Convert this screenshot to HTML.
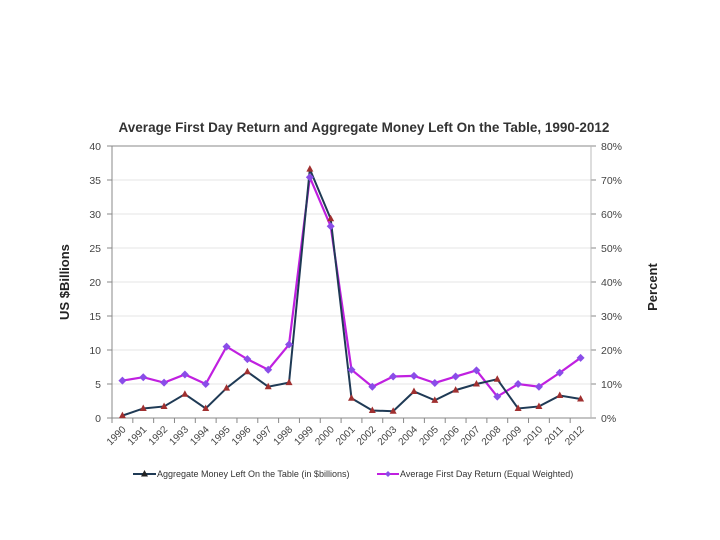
<!DOCTYPE html>
<html><head><meta charset="utf-8"><style>
body{margin:0;background:#fff;}
svg{display:block;font-family:"Liberation Sans",sans-serif;}
</style></head><body>
<svg id="chart" width="720" height="540" viewBox="0 0 720 540"></svg>
<script>
const years=["1990","1991","1992","1993","1994","1995","1996","1997","1998","1999","2000","2001","2002","2003","2004","2005","2006","2007","2008","2009","2010","2011","2012"];
const moneyLeft=[0.35,1.4,1.7,3.5,1.4,4.4,6.8,4.6,5.2,36.6,29.3,2.9,1.1,1.0,3.9,2.6,4.1,5.0,5.7,1.4,1.7,3.3,2.8];
const firstDayReturn=[11,12,10.4,12.8,10,21,17.3,14.2,21.6,70.8,56.4,14.2,9.2,12.2,12.4,10.3,12.2,14,6.3,10,9.2,13.3,17.7];
const leftTicks=[0,5,10,15,20,25,30,35,40];
const rightTicks=["0%","10%","20%","30%","40%","50%","60%","70%","80%"];
const NS="http://www.w3.org/2000/svg";
const svg=document.getElementById('chart');
const L=112,R=591,T=146,B=418;
const bw=(R-L)/years.length;
const x=i=>L+bw*(i+0.5);
const yL=v=>B-(v/40)*(B-T);
const yR=v=>B-(v/80)*(B-T);
function mk(tag,a,parent){const e=document.createElementNS(NS,tag);for(const k in a)e.setAttribute(k,a[k]);(parent||svg).appendChild(e);return e;}
// title
let t=mk('text',{x:364,y:132,'text-anchor':'middle','font-size':'13.5','font-weight':'bold',fill:'#333'});


t.textContent='Average First Day Return and Aggregate Money Left On the Table, 1990-2012';
// gridlines & left ticks
leftTicks.forEach((v,i)=>{
  const g=mk('line',{x1:L,x2:R,y1:yL(v),y2:yL(v),stroke:i==0||i==8?'#888':'#e4e4e4','stroke-width':1});
  
  
  mk('line',{x1:L-5,x2:L,y1:yL(v),y2:yL(v),stroke:'#888'});
  mk('line',{x1:R,x2:R+5,y1:yL(v),y2:yL(v),stroke:'#888'});
  const lt=mk('text',{x:101,y:yL(v)+4,'text-anchor':'end','font-size':'10.5',fill:'#444'});
  
  
  lt.textContent=v;
  const rt=mk('text',{x:601,y:yL(v)+4,'text-anchor':'start','font-size':'10.5',fill:'#444'});
  
  
  rt.textContent=rightTicks[i];
});
mk('line',{x1:L,x2:L,y1:T,y2:B,stroke:'#888'});
mk('line',{x1:R,x2:R,y1:T,y2:B,stroke:'#bbb'});
// x ticks & labels
years.forEach((yv,i)=>{
  mk('line',{x1:L+bw*i,x2:L+bw*i,y1:B,y2:B+5,stroke:'#888'});
  const xl=mk('text',{x:x(i)+4,y:B+12,'text-anchor':'end','font-size':'10',fill:'#444',transform:`rotate(-45 ${x(i)+4} ${B+12})`});
  
  
  xl.textContent=yv;
});
// axis titles
let a1=mk('text',{x:69,y:282,'text-anchor':'middle','font-size':'13','font-weight':'bold',fill:'#222',transform:'rotate(-90 69 282)'});


a1.textContent='US $Billions';
let a2=mk('text',{x:657,y:287,'text-anchor':'middle','font-size':'13','font-weight':'bold',fill:'#222',transform:'rotate(-90 657 287)'});


a2.textContent='Percent';
// series
const pRet=mk('polyline',{points:firstDayReturn.map((v,i)=>x(i)+','+yR(v)).join(' '),fill:'none',stroke:'#c020e0','stroke-width':2.2});


const pMon=mk('polyline',{points:moneyLeft.map((v,i)=>x(i)+','+yL(v)).join(' '),fill:'none',stroke:'#1f3a55','stroke-width':2});


moneyLeft.forEach((v,i)=>{
  const m=mk('polygon',{points:`${x(i)},${yL(v)-4} ${x(i)-3.5},${yL(v)+2.5} ${x(i)+3.5},${yL(v)+2.5}`,fill:'#a03030'});
  
  
});
firstDayReturn.forEach((v,i)=>{
  const c=x(i),cy=yR(v);
  const m=mk('polygon',{points:`${c},${cy-4} ${c+4},${cy} ${c},${cy+4} ${c-4},${cy}`,fill:'#8a4de8'});
  
  
});
// legend
const lg=mk('g',{});


mk('line',{x1:133,x2:156,y1:474,y2:474,stroke:'#1f3a55','stroke-width':2},lg);
mk('polygon',{points:'144.5,470 141,476.5 148,476.5',fill:'#222'},lg);
let l1=mk('text',{x:157,y:477,'font-size':'9',fill:'#333'},lg);


l1.textContent='Aggregate Money Left On the Table (in $billions)';
mk('line',{x1:377,x2:399,y1:474,y2:474,stroke:'#c020e0','stroke-width':2},lg);
mk('polygon',{points:'388,471 391,474 388,477 385,474',fill:'#8a4de8'},lg);
let l2=mk('text',{x:400,y:477,'font-size':'9',fill:'#333'},lg);


l2.textContent='Average First Day Return (Equal Weighted)';
</script>
</body></html>
